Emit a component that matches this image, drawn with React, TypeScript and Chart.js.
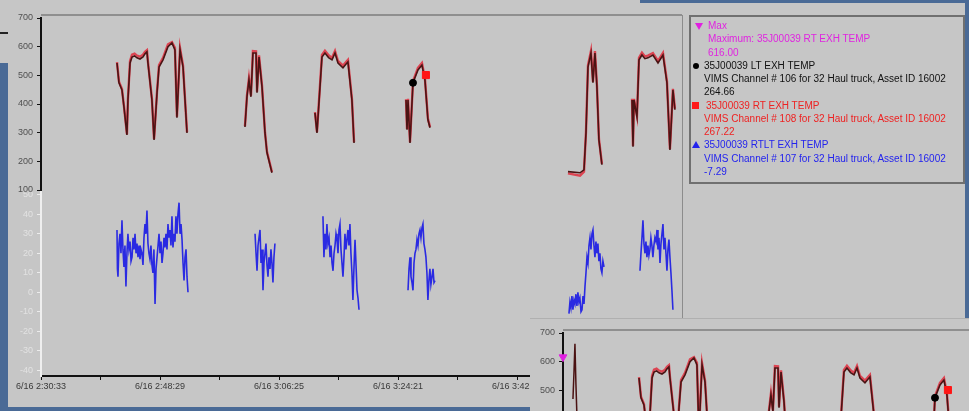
import React, { useEffect, useRef } from "react";
import { Chart, registerables } from "chart.js";
Chart.register(...registerables);

// ---- data (seconds after 6/16 2:30:33) ----
const tempTimes = [
  687, 705, 732, 750, 777, 786, 805, 823, 846, 868, 895, 922, 940, 958, 967, 1003, 1022, 1049, 1067, 1103, 1148, 1184, 1211, 1229, 1257, 1284, 1302, 1320,
  1500,
  1844, 1862, 1880, 1898, 1916, 1944, 1953, 1971, 1998, 2025, 2043, 2088,
  2300,
  2477, 2495, 2540, 2567, 2600, 2631, 2658, 2685, 2730, 2775, 2811, 2830,
  3000,
  3300, 3309, 3318, 3336, 3363, 3408, 3444, 3471, 3498, 3517,
  4000,
  4764, 4873, 4909, 4927, 4945, 4972, 4990, 5008, 5026, 5044, 5071,
  5200,
  5343, 5352, 5361, 5388, 5406, 5433, 5460, 5487, 5532, 5578, 5623, 5659, 5686, 5713, 5731,
];
const ltValues = [
  543, 474, 449, 390, 292, 414, 543, 564, 568, 561, 557, 564, 575, 582, 543, 414, 275, 439, 529, 554, 600, 613, 589, 352, 589, 529, 414, 299,
  null,
  320, 425, 484, 425, 578, 578, 439, 564, 460, 299, 230, 160,
  null,
  369, 299, 564, 578, 562, 554, 578, 543, 526, 547, 414, 264,
  null,
  414, 310, 414, 264, 474, 519, 536, 484, 345, 317,
  null,
  164, 160, 170, 299, 529, 578, 474, 578, 460, 275, 188,
  null,
  414, 251, 414, 355, 554, 571, 558, 561, 571, 543, 571, 474, 240, 449, 380,
];
const rtValues = [
  546, 478, 452, 393, 295, 418, 550, 572, 576, 569, 565, 572, 582, 588, 547, 417, 278, 444, 536, 561, 608, 616, 596, 356, 595, 534, 417, 302,
  null,
  323, 429, 489, 429, 585, 584, 443, 570, 464, 302, 233, 163,
  null,
  372, 303, 571, 586, 570, 561, 585, 550, 534, 554, 418, 267,
  null,
  417, 313, 418, 267, 479, 526, 543, 489, 349, 320,
  null,
  158, 150, 164, 303, 535, 585, 478, 585, 464, 278, 191,
  null,
  418, 254, 418, 359, 561, 579, 566, 569, 578, 550, 578, 479, 243, 453, 384,
];

// RT - LT difference, one pair of arrays per haul cycle
const diffTimes1 = [687, 691, 696, 705, 714, 723, 732, 741, 750, 759, 768, 777, 786, 795, 805, 814, 823, 832, 841, 850, 859, 868, 877, 886, 895, 904, 913, 922, 931, 940, 949, 958, 967, 976, 985, 994, 1003, 1012, 1021, 1031, 1040, 1049, 1058, 1067, 1076, 1085, 1094, 1103, 1112, 1121, 1130, 1139, 1148, 1157, 1166, 1175, 1184, 1193, 1202, 1211, 1220, 1229, 1238, 1248, 1257, 1266, 1275, 1284, 1293, 1302, 1311, 1320, 1329];
const diffValues1 = [32, 12, 8, 25, 30, 20, 37, 22, 13, 24, 3, 20, 30, 22, 26, 16, 18, 28, 22, 30, 20, 25, 18, 24, 17, 22, 20, 14, 28, 35, 30, 42, 25, 20, 17, 24, 14, 10, 22, -6, 12, 18, 24, 30, 20, 26, 15, 20, 28, 23, 30, 22, 35, 28, 32, 24, 39, 23, 30, 26, 39, 30, 40, 46, 30, 35, 27, 15, 6, 18, 22, 8, 0];
const diffTimes2 = [1935, 1944, 1953, 1962, 1971, 1980, 1989, 1998, 2007, 2016, 2025, 2034, 2043, 2052, 2061, 2070, 2079, 2088, 2097, 2106, 2115];
const diffValues2 = [30, 20, 11, 24, 28, 32, 15, 22, 1, 15, 20, 25, 14, 8, 18, 12, 22, 15, 5, 18, 25];
const diffTimes3 = [2549, 2558, 2567, 2576, 2585, 2594, 2604, 2613, 2622, 2631, 2640, 2649, 2658, 2667, 2676, 2685, 2694, 2703, 2712, 2721, 2730, 2739, 2748, 2757, 2766, 2775, 2784, 2793, 2802, 2811, 2820, 2829, 2839, 2848, 2857, 2866, 2875];
const diffValues3 = [39, 18, 30, 22, 35, 25, 28, 18, 24, 15, 11, 20, 24, 30, 27, 20, 32, 35, 22, 15, 8, 18, 30, 22, 27, 32, 24, 35, 20, 10, -4, 12, 27, 14, 1, -3, -9];
const diffTimes4 = [3318, 3327, 3336, 3345, 3354, 3363, 3372, 3381, 3390, 3399, 3408, 3417, 3426, 3435, 3444, 3453, 3462, 3471, 3480, 3489, 3498, 3507, 3516, 3525, 3535, 3544, 3553, 3562];
const diffValues4 = [1, 12, 18, 8, 5, 1, 15, 20, 22, 27, 24, 30, 32, 28, 33, 35, 25, 22, 18, 10, -4, 6, 12, 4, 8, 12, 5, 6];
const diffTimes5 = [4773, 4782, 4791, 4800, 4809, 4818, 4827, 4836, 4845, 4854, 4863, 4872, 4882, 4891, 4900, 4909, 4918, 4927, 4936, 4945, 4954, 4963, 4972, 4981, 4990, 4999, 5008, 5017, 5026, 5035, 5044, 5053, 5062, 5071, 5080, 5090];
const diffValues5 = [-11, -5, -8, -2, -9, -4, -6, -1, -7, 0, -5, -3, -10, -9, -2, -6, 3, 10, 18, 15, 24, 28, 22, 30, 32, 24, 18, 26, 20, 25, 16, 20, 12, 10, 16, 13];
const diffTimes6 = [5415, 5424, 5433, 5442, 5451, 5460, 5469, 5478, 5487, 5496, 5505, 5514, 5523, 5532, 5541, 5550, 5560, 5569, 5578, 5587, 5596, 5605, 5614, 5623, 5632, 5641, 5650, 5659, 5668, 5677, 5686, 5695, 5704, 5713];
const diffValues6 = [11, 20, 28, 37, 25, 20, 26, 18, 24, 19, 22, 28, 24, 18, 24, 28, 26, 32, 22, 28, 15, 25, 30, 35, 22, 28, 20, 11, 22, 27, 18, 10, 1, -9];

const cursorLT = { t: 3363, v: 474 };
const cursorRT = { t: 3480, v: 501 };
const maxRT = 616;
const insetEarlyTimes = [90, 99, 108, 117, 126];
const insetEarlyValues = [470, 560, 662, 520, 410];

const upperTicks = [700, 600, 500, 400, 300, 200, 100];
const lowerTicks = [50, 40, 30, 20, 10, 0, -10, -20, -30, -40];
const xTickSeconds = [0, 538, 1076, 1614, 2152, 2690, 3228, 3766, 4304, 4842, 5380];
const startSeconds = 2 * 3600 + 30 * 60 + 33;
const dateLabel = "6/16";
const xMax = 5795;

const FONT = '"Liberation Sans", Arial, sans-serif';

function fmtTime(sec: number) {
  const total = startSeconds + sec;
  const h = Math.floor(total / 3600);
  const m = Math.floor((total % 3600) / 60);
  const s = Math.round(total % 60);
  return `${dateLabel} ${h}:${String(m).padStart(2, "0")}:${String(s).padStart(2, "0")}`;
}

const pts = (ts: number[], vs: (number | null)[]) => ts.map((t, i) => ({ x: t, y: vs[i] }));

function diffPoints() {
  const segs: [number[], number[]][] = [
    [diffTimes1, diffValues1], [diffTimes2, diffValues2], [diffTimes3, diffValues3],
    [diffTimes4, diffValues4], [diffTimes5, diffValues5], [diffTimes6, diffValues6],
  ];
  const out: { x: number; y: number | null }[] = [];
  segs.forEach(([ts, vs], k) => {
    if (k > 0) out.push({ x: ts[0] - 1, y: null });
    out.push(...pts(ts, vs));
  });
  return out;
}

function buildConfig(inset: boolean): any {
  const datasets: any[] = [
    {
      label: "cursor LT", data: [{ x: cursorLT.t, y: cursorLT.v }], yAxisID: "y", showLine: false,
      pointStyle: "circle", pointRadius: 3.5, pointBackgroundColor: "#000", pointBorderColor: "#000",
    },
    {
      label: "cursor RT", data: [{ x: cursorRT.t, y: cursorRT.v }], yAxisID: "y", showLine: false,
      pointStyle: "rect", pointRadius: 5, pointBackgroundColor: "#ff1515", pointBorderColor: "#ff1515",
    },
    {
      label: "35J00039 LT EXH TEMP", data: pts(tempTimes, ltValues), yAxisID: "y",
      borderColor: "#4a1414", borderWidth: 1.6, pointRadius: 0, spanGaps: false,
    },
    {
      label: "35J00039 RT EXH TEMP", data: pts(tempTimes, rtValues), yAxisID: "y",
      borderColor: "#dc4452", borderWidth: 2.4, pointRadius: 0, spanGaps: false,
    },
    {
      label: "35J00039 RTLT EXH TEMP", data: diffPoints(), yAxisID: "y2",
      borderColor: "#2a2ae2", borderWidth: 1.6, pointRadius: 0, spanGaps: false,
    },
  ];
  if (inset) {
    datasets.unshift({
      label: "Max", data: [{ x: 0, y: maxRT }], yAxisID: "y", showLine: false, clip: false,
      pointStyle: "triangle", rotation: 180, pointRadius: 4.5,
      pointBackgroundColor: "#e020e0", pointBorderColor: "#e020e0",
    });
    datasets.push({
      label: "early", data: pts(insetEarlyTimes, insetEarlyValues), yAxisID: "y",
      borderColor: "#4a1212", borderWidth: 1.5, pointRadius: 0,
    });
  }
  const framePlugin = {
    id: "frame",
    beforeDatasetsDraw(chart: any) {
      const { ctx, chartArea } = chart;
      ctx.save();
      ctx.strokeStyle = "#8f8f8f";
      ctx.lineWidth = 2;
      ctx.beginPath();
      ctx.moveTo(chartArea.left, chartArea.top - 3);
      ctx.lineTo(chartArea.right, chartArea.top - 3);
      ctx.stroke();
      ctx.restore();
    },
  };
  return {
    type: "line",
    data: { datasets },
    plugins: [framePlugin],
    options: {
      animation: false,
      responsive: false,
      devicePixelRatio: 1,
      layout: { padding: { left: 0, top: 18, right: 8, bottom: 0 } },
      plugins: { legend: { display: false }, tooltip: { enabled: false } },
      scales: {
        x: {
          type: "linear", min: 0, max: xMax, position: "bottom",
          afterFit: (s: any) => { s.height = 31; },
          afterBuildTicks: (s: any) => { s.ticks = xTickSeconds.map((v) => ({ value: v })); },
          ticks: {
            autoSkip: false, maxRotation: 0, minRotation: 0, padding: 1, color: "#3a3a3a",
            font: { family: FONT, size: 9 },
            callback: (v: any, i: number) => (i % 2 === 0 ? fmtTime(Number(v)) : ""),
          },
          grid: { drawOnChartArea: false, tickLength: 4, color: "#111", lineWidth: 1 },
          border: { color: "#111", width: 2 },
        },
        y2: {
          type: "linear", position: "left", stack: "temps", stackWeight: 186, weight: 1, min: -43, max: 52.5,
          afterFit: (s: any) => { s.width = 41; },
          afterBuildTicks: (s: any) => { s.ticks = lowerTicks.map((v) => ({ value: v })); },
          ticks: { autoSkip: false, color: "#e2e2e2", padding: 4, font: { family: FONT, size: 9 } },
          grid: { drawOnChartArea: false, tickLength: 4, color: "#ececec" },
          border: { color: "#efefef", width: 2 },
        },
        y: {
          type: "linear", position: "left", stack: "temps", stackWeight: 172, weight: 2, min: 100, max: 700,
          afterFit: (s: any) => { s.width = 41; },
          afterBuildTicks: (s: any) => { s.ticks = upperTicks.map((v) => ({ value: v })); },
          ticks: { autoSkip: false, color: "#505050", padding: 4, font: { family: FONT, size: 9 } },
          grid: { drawOnChartArea: false, tickLength: 4, color: "#111" },
          border: { color: "#111", width: 2 },
        },
      },
    },
  };
}

function ChartWindow({ left, top, inset }: { left: number; top: number; inset: boolean }) {
  const ref = useRef<HTMLCanvasElement>(null);
  useEffect(() => {
    const chart = new Chart(ref.current as HTMLCanvasElement, buildConfig(inset));
    return () => chart.destroy();
  }, [inset]);
  return (
    <div
      style={{
        position: "absolute", left, top, width: 957, height: 404, background: "#c6c6c6", overflow: "hidden",
        borderTop: inset ? "1px solid #b0b0b0" : "none", boxSizing: "border-box",
      }}
    >
      <canvas
        ref={ref}
        width={690}
        height={407}
        style={{ position: "absolute", left: -8, top: inset ? -4 : -3, width: 690, height: 407 }}
      />
      {!inset && (
        <div style={{ position: "absolute", left: 674, top: 12, width: 1, height: 392, background: "#8c8c8c" }} />
      )}
    </div>
  );
}

const legendLines: { text: string; color: string; marker?: string; indent: number }[] = [
  { text: "Max", color: "#e024e0", marker: "down", indent: 708 },
  { text: "Maximum: 35J00039 RT EXH TEMP", color: "#e024e0", indent: 708 },
  { text: "616.00", color: "#e024e0", indent: 708 },
  { text: "35J00039 LT EXH TEMP", color: "#111111", marker: "circle", indent: 704 },
  { text: "VIMS Channel # 106 for 32 Haul truck, Asset ID 16002", color: "#111111", indent: 704 },
  { text: "264.66", color: "#111111", indent: 704 },
  { text: "35J00039 RT EXH TEMP", color: "#ee2222", marker: "square", indent: 706 },
  { text: "VIMS Channel # 108 for 32 Haul truck, Asset ID 16002", color: "#ee2222", indent: 704 },
  { text: "267.22", color: "#ee2222", indent: 704 },
  { text: "35J00039 RTLT EXH TEMP", color: "#2323ee", marker: "up", indent: 704 },
  { text: "VIMS Channel # 107 for 32 Haul truck, Asset ID 16002", color: "#2323ee", indent: 704 },
  { text: "-7.29", color: "#2323ee", indent: 704 },
];

function Marker({ kind, y }: { kind: string; y: number }) {
  const base: any = { position: "absolute" };
  if (kind === "down")
    return <div style={{ ...base, left: 695, top: y - 3, width: 0, height: 0, borderLeft: "4.5px solid transparent", borderRight: "4.5px solid transparent", borderTop: "7px solid #e020e0" }} />;
  if (kind === "up")
    return <div style={{ ...base, left: 692, top: y - 4, width: 0, height: 0, borderLeft: "4.5px solid transparent", borderRight: "4.5px solid transparent", borderBottom: "7px solid #2323ee" }} />;
  if (kind === "circle")
    return <div style={{ ...base, left: 693, top: y - 3, width: 6, height: 6, borderRadius: 3, background: "#000" }} />;
  return <div style={{ ...base, left: 692, top: y - 3.5, width: 7, height: 7, background: "#ff1a1a" }} />;
}

export default function App() {
  const lineY = (i: number) => 26 + i * 13.27;
  return (
    <div style={{ position: "absolute", left: 0, top: 0, width: 969, height: 411, overflow: "hidden", background: "#4a6a96", fontFamily: FONT }}>
      <div style={{ position: "absolute", left: 0, top: 0, width: 640, height: 3, background: "#c6c6c6" }} />
      <div style={{ position: "absolute", left: 0, top: 0, width: 8, height: 63, background: "#c6c6c6" }} />
      <div style={{ position: "absolute", left: 0, top: 32, width: 8, height: 2, background: "#222" }} />
      <ChartWindow left={8} top={3} inset={false} />
      <div style={{ position: "absolute", left: 689, top: 15, width: 276, height: 169, border: "2px solid #707070", boxSizing: "border-box" }} />
      {legendLines.map((l, i) => (
        <React.Fragment key={i}>
          {l.marker && <Marker kind={l.marker} y={lineY(i)} />}
          <div
            style={{
              position: "absolute", left: l.indent, top: lineY(i) - 7, height: 14, lineHeight: "14px",
              fontSize: 10, color: l.color, whiteSpace: "nowrap",
            }}
          >
            {l.text}
          </div>
        </React.Fragment>
      ))}
      <ChartWindow left={530} top={318} inset={true} />
    </div>
  );
}
